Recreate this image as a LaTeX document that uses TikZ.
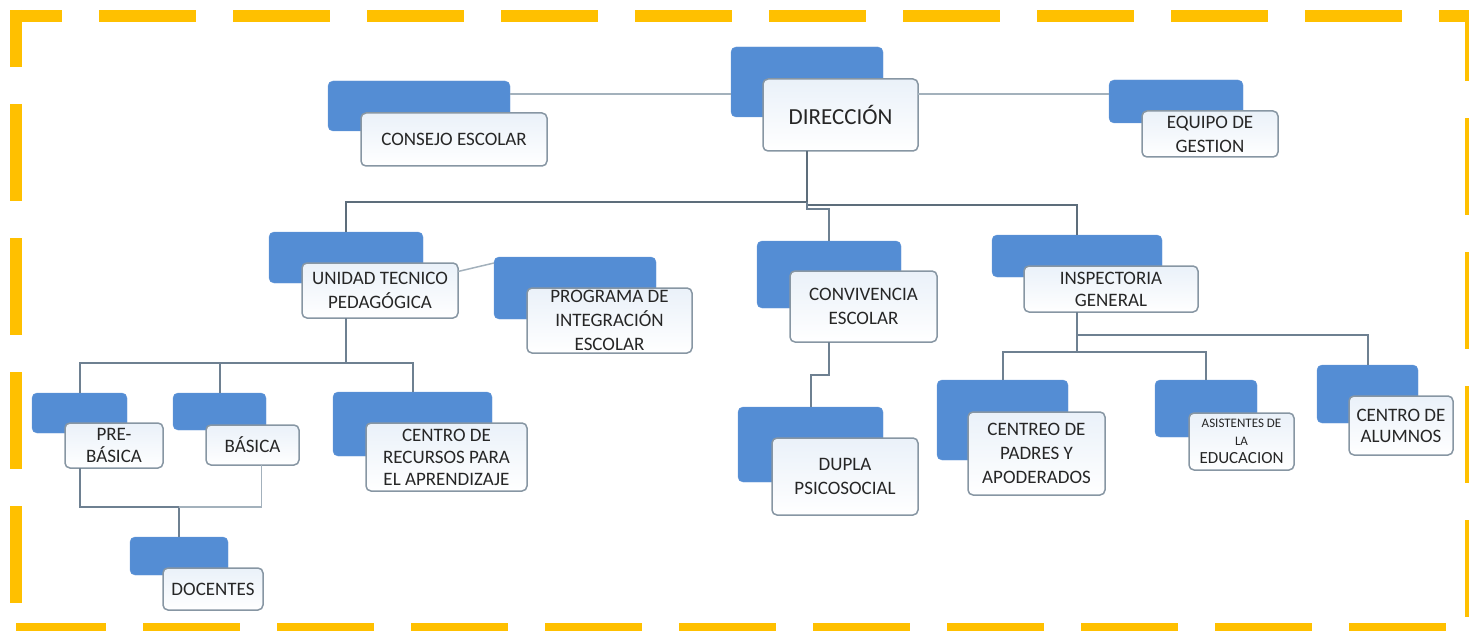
\documentclass[tikz,border=0pt]{standalone}
\usepackage{fontspec}
\setmainfont{Carlito}
\usepackage{xcolor}
\definecolor{orgblue}{HTML}{548DD4}
\definecolor{orgline}{HTML}{6E8091}
\definecolor{orglight}{HTML}{A3B1BC}
\definecolor{orgedge}{HTML}{8796A3}
\definecolor{orgtint}{HTML}{EAF1F9}
\definecolor{frameyellow}{HTML}{FFC000}

\begin{document}
\begin{tikzpicture}[
  x=1pt, y=-1pt,
  backbox/.style={fill=orgblue, draw=orgblue!90!white, rounded corners=5pt,
                  inner sep=0pt, outer sep=0pt},
  frontbox/.style={draw=orgedge, line width=1.5pt, rounded corners=5pt,
                   top color=orgtint, bottom color=white,
                   inner sep=0pt, outer sep=0pt, align=center,
                   font=\fontsize{19}{24}\selectfont, text=black!85},
  link/.style={draw=orgline, line width=2pt},
  trunk/.style={draw=orgline!85!black, line width=2.6pt},
  thinlink/.style={draw=orglight, line width=1.5pt},
  framedash/.style={frameyellow, line width=12pt, dash pattern=on 97pt off 37pt}
]
  \useasboundingbox (0,0) rectangle (1469,631);

  %% Frame
  \draw[framedash, dash phase=51pt]
    (16,16) -- (1471,16) -- (1471,629) -- (16,629);
  \draw[framedash, dash phase=40pt] (16,10) -- (16,629);

  %% Top row
  \node[backbox, minimum width=182, minimum height=50] (conB) at (419,106) {};
  \node[frontbox, minimum width=186, minimum height=53] (conW) at (454,139.5)
    {CONSEJO ESCOLAR};

  \node[backbox, minimum width=152, minimum height=70] (dirB) at (807,82) {};
  \node[frontbox, minimum width=155, minimum height=72,
        font=\fontsize{23}{27}\selectfont] (dirW) at (840.5,115) {DIRECCIÓN};

  \node[backbox, minimum width=134, minimum height=43] (eqB) at (1176,101.5) {};
  \node[frontbox, minimum width=136, minimum height=46] (eqW) at (1210,134)
    {EQUIPO DE\\GESTION};

  %% Second row
  \node[backbox, minimum width=154, minimum height=51] (utpB) at (346,257.5) {};
  \node[frontbox, minimum width=156, minimum height=55] (utpW) at (380,290.5)
    {UNIDAD TECNICO\\PEDAGÓGICA};

  \node[backbox, minimum width=162, minimum height=62] (pieB) at (575,288) {};
  \node[frontbox, minimum width=165, minimum height=65] (pieW) at (609.5,320.5)
    {PROGRAMA DE\\INTEGRACIÓN\\ESCOLAR};

  \node[backbox, minimum width=144, minimum height=67] (convB) at (829,274.5) {};
  \node[frontbox, minimum width=147, minimum height=71] (convW) at (863.5,306.5)
    {CONVIVENCIA\\ESCOLAR};

  \node[backbox, minimum width=170, minimum height=42] (inspB) at (1077,256) {};
  \node[frontbox, minimum width=174, minimum height=46, font=\fontsize{19}{22}\selectfont]
    (inspW) at (1111,289) {INSPECTORIA\\GENERAL};

  %% Third row
  \node[backbox, minimum width=95, minimum height=40] (preB) at (79.5,413) {};
  \node[frontbox, minimum width=98, minimum height=45, font=\fontsize{19}{22}\selectfont]
    (preW) at (114,445.5) {PRE-\\BÁSICA};

  \node[backbox, minimum width=93, minimum height=37] (basB) at (219.5,411.5) {};
  \node[frontbox, minimum width=93, minimum height=40] (basW) at (252.5,445) {BÁSICA};

  \node[backbox, minimum width=159, minimum height=64] (crecB) at (412.5,424) {};
  \node[frontbox, minimum width=161, minimum height=68, font=\fontsize{19}{22}\selectfont]
    (crecW) at (446.5,457) {CENTRO DE\\RECURSOS PARA\\EL APRENDIZAJE};

  \node[backbox, minimum width=145, minimum height=75] (dupB) at (810.5,444.5) {};
  \node[frontbox, minimum width=146, minimum height=77] (dupW) at (845,476.5)
    {DUPLA\\PSICOSOCIAL};

  \node[backbox, minimum width=131, minimum height=80] (cpadB) at (1002.5,420) {};
  \node[frontbox, minimum width=137, minimum height=83] (cpadW) at (1036.5,453.5)
    {CENTREO DE\\PADRES Y\\APODERADOS};

  \node[backbox, minimum width=102, minimum height=57] (asisB) at (1206,408.5) {};
  \node[frontbox, minimum width=105, minimum height=57, font=\fontsize{13}{18}\selectfont]
    (asisW) at (1241.5,441.5)
    {ASISTENTES DE\\LA\\{\fontsize{17}{21}\selectfont EDUCACION}};

  \node[backbox, minimum width=101, minimum height=58] (alumB) at (1367.5,394) {};
  \node[frontbox, minimum width=104, minimum height=59, font=\fontsize{19}{21}\selectfont]
    (alumW) at (1401,425.5) {CENTRO DE\\ALUMNOS};

  %% Bottom
  \node[backbox, minimum width=98, minimum height=38] (docB) at (179,556) {};
  \node[frontbox, minimum width=100, minimum height=42] (docW) at (213,589) {DOCENTES};

  %% Connectors
  \coordinate (conOut) at ([yshift=-13pt]conB.north east);
  \coordinate (eqIn) at ([yshift=-14pt]eqB.north west);
  \draw[thinlink] (conOut) -- (conOut -| dirB.west);
  \draw[thinlink] (eqIn -| dirW.east) -- (eqIn);

  \coordinate (hub) at (807,202);
  \draw[trunk] (dirB.south |- dirW.south) -- (hub) -| (utpB.north);
  \draw[trunk] (hub) -- ++(0,3) -| (inspB.north);
  \draw[link] (hub) -- ++(0,7) -| (convB.north);

  \draw[thinlink] ([yshift=19pt]utpW.east) -- ([yshift=25pt]pieB.west);

  \coordinate (utpHub) at (346,363);
  \draw[link] (utpB.north |- utpW.south) -- (utpHub);
  \draw[link] (preB.north) |- (utpHub) -| (crecB.north);
  \draw[link] (basB.north) -- (basB.north |- utpHub);

  \coordinate (docHub) at (179,507);
  \draw[link] (preB.north |- preW.south) |- (docHub) -- (docB.north);
  \draw[thinlink] (docHub) -| ([xshift=9pt]basW.south);

  \draw[link] (convB.north |- convW.south) -- ++(0,33) -| (dupB.north);

  \coordinate (inspHub) at (1077,352);
  \draw[link] (inspB.north |- inspW.south) -- (inspHub);
  \draw[link] (cpadB.north) |- (inspHub) -| (asisB.north);
  \draw[link] (inspHub) ++(0,-17) -| (alumB.north);
\end{tikzpicture}
\end{document}
